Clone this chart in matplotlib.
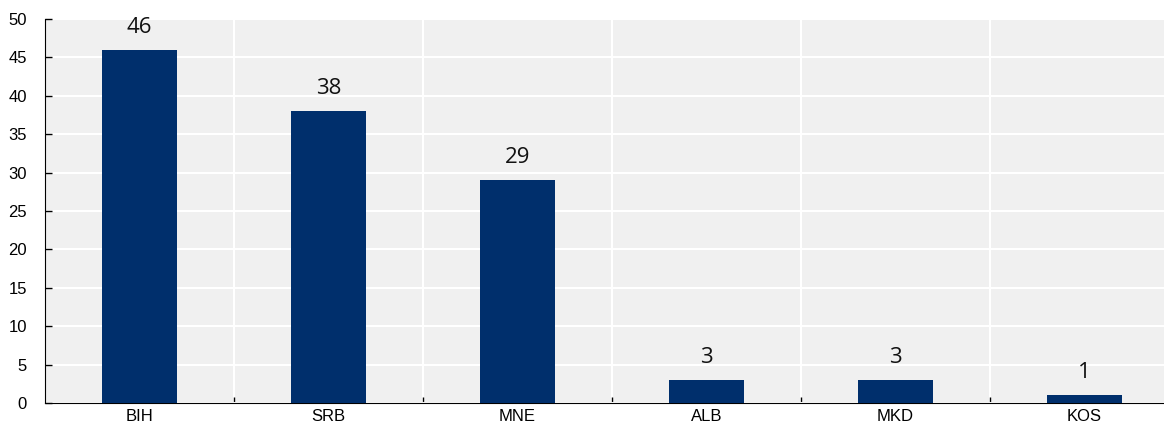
import matplotlib.pyplot as plt
import numpy as np

countries = ["BIH", "SRB", "MNE", "ALB", "MKD", "KOS"]
values = [46, 38, 29, 3, 3, 1]
y_ticks = [0, 5, 10, 15, 20, 25, 30, 35, 40, 45, 50]

bar_color = "#002f6c"

fig = plt.figure(figsize=(11.64, 4.23), dpi=100)
# plot area runs a little past the right edge of the figure
ax = fig.add_axes([45 / 1164, 20 / 423, 1134 / 1164, 384 / 423])
ax.set_facecolor("#f0f0f0")

x = np.arange(len(countries))
ax.bar(x, values, width=0.4, color=bar_color, zorder=3)

for xi, v in zip(x, values):
    ax.text(xi, v + 1.55, str(v), ha="center", va="bottom",
            fontsize=16, family="Open Sans", color="#111111")

ax.set_xlim(-0.5, len(countries) - 0.5)
ax.set_ylim(0, 50)
ax.set_yticks(y_ticks)
ax.set_xticks(x)
ax.set_xticklabels(countries)
ax.set_xticks(x[:-1] + 0.5, minor=True)

ax.grid(True, axis="y", color="white", linewidth=1.5, zorder=0)
ax.grid(True, axis="x", which="minor", color="white", linewidth=1.5, zorder=0)
ax.set_axisbelow(True)

for side in ("top", "right"):
    ax.spines[side].set_visible(False)
ax.spines["left"].set_color("black")
ax.spines["bottom"].set_color("black")

ax.tick_params(axis="y", direction="in", length=5, width=1,
               labelsize=12, pad=13)
ax.tick_params(axis="x", which="major", length=0, labelsize=12, pad=4)
ax.tick_params(axis="x", which="minor", direction="in", length=4, width=1)
for lbl in ax.get_xticklabels() + ax.get_yticklabels():
    lbl.set_family("Liberation Sans")

fig.savefig("out.png", dpi=100)
